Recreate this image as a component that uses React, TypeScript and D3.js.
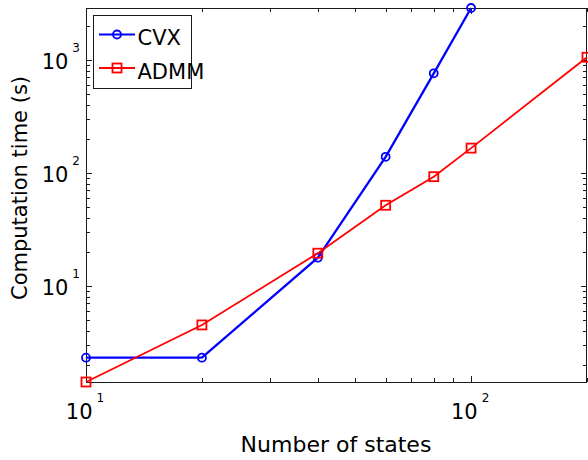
import React, { useEffect, useRef } from 'react';
import * as d3 from 'd3';

// number of states
const states = [10, 20, 40, 60, 80, 100, 200];
// computation time (s)
const cvxTimes = [2.32, 2.32, 17.8, 139, 762, 2884];
const admmTimes = [1.413, 4.52, 19.5, 51.8, 92.7, 166, 1057];

const seriesNames = ['CVX', 'ADMM'];
const xTickExps = [1, 2];
const yTickExps = [1, 2, 3];

const App = () => {
  const svgRef = useRef<SVGSVGElement>(null);

  useEffect(() => {
    const svg = d3.select(svgRef.current);
    svg.selectAll('*').remove();

    const width = 588;
    const height = 460;
    const margin = { top: 8, right: 1, bottom: 78, left: 86 };
    const font = 'DejaVu Sans, sans-serif';

    const cvx = cvxTimes.map((t, i) => ({ x: states[i], y: t }));
    const admm = admmTimes.map((t, i) => ({ x: states[i], y: t }));
    const all = [...cvxTimes, ...admmTimes];

    const x = d3.scaleLog()
      .domain([d3.min(states), d3.max(states)])
      .range([margin.left, width - margin.right]);

    const y = d3.scaleLog()
      .domain([d3.min(all), d3.max(all)])
      .range([height - margin.bottom, margin.top]);

    const [x0, x1] = x.range();
    const [y0, y1] = y.range();

    // minor / major ticks
    const xTicks = x.ticks();
    const yTicks = y.ticks();
    const isMajor = (v: number) => Math.abs(Math.log10(v) - Math.round(Math.log10(v))) < 1e-9;
    const tickColor = '#1a1a1a';

    const ticks = svg.append('g').attr('stroke', tickColor).attr('stroke-width', 1);
    xTicks.forEach(v => {
      const px = Math.round(x(v)) + 0.5;
      const len = isMajor(v) ? 6 : 4;
      ticks.append('line').attr('x1', px).attr('x2', px).attr('y1', y0).attr('y2', y0 - len);
      ticks.append('line').attr('x1', px).attr('x2', px).attr('y1', y1).attr('y2', y1 + len);
    });
    yTicks.forEach(v => {
      const py = Math.round(y(v)) + 0.5;
      const len = isMajor(v) ? 6 : 4;
      ticks.append('line').attr('y1', py).attr('y2', py).attr('x1', x0).attr('x2', x0 + len);
      ticks.append('line').attr('y1', py).attr('y2', py).attr('x1', x1).attr('x2', x1 - len);
    });

    // box
    svg.append('rect')
      .attr('x', x0 + 0.5)
      .attr('y', y1 + 0.5)
      .attr('width', x1 - x0 - 1)
      .attr('height', y0 - y1)
      .attr('fill', 'none')
      .attr('stroke', tickColor)
      .attr('stroke-width', 1);

    // tick labels
    xTickExps.forEach(e => {
      const t = svg.append('text')
        .attr('x', x(Math.pow(10, e)) - 1)
        .attr('y', 419)
        .attr('text-anchor', 'middle')
        .style('font-family', font)
        .style('font-size', '21px')
        .attr('fill', '#000');
      t.append('tspan').text('10');
      t.append('tspan').attr('dx', 4).attr('dy', -17).style('font-size', '12px').text(String(e));
    });
    yTickExps.forEach(e => {
      const t = svg.append('text')
        .attr('x', 80)
        .attr('y', y(Math.pow(10, e)) + 9.5)
        .attr('text-anchor', 'end')
        .style('font-family', font)
        .style('font-size', '21px')
        .attr('fill', '#000');
      t.append('tspan').text('10');
      t.append('tspan').attr('dx', 4).attr('dy', -17).style('font-size', '12px').text(String(e));
    });

    // axis titles
    svg.append('text')
      .attr('x', 336)
      .attr('y', 451.5)
      .attr('text-anchor', 'middle')
      .style('font-family', font)
      .style('font-size', '22px')
      .attr('fill', '#000')
      .text('Number of states');

    svg.append('text')
      .attr('transform', 'translate(27,188) rotate(-90)')
      .attr('text-anchor', 'middle')
      .style('font-family', font)
      .style('font-size', '21px')
      .attr('fill', '#000')
      .text('Computation time (s)');

    const line = d3.line<{ x: number; y: number }>()
      .x(d => x(d.x))
      .y(d => y(d.y));

    // CVX
    svg.append('path')
      .datum(cvx)
      .attr('d', line)
      .attr('fill', 'none')
      .attr('stroke', '#0000ff')
      .attr('stroke-width', 2.3);
    svg.append('g')
      .selectAll('circle')
      .data(cvx)
      .join('circle')
      .attr('cx', d => x(d.x))
      .attr('cy', d => y(d.y))
      .attr('r', 4)
      .attr('fill', 'none')
      .attr('stroke', '#0000ff')
      .attr('stroke-width', 1.8);

    // ADMM
    svg.append('path')
      .datum(admm)
      .attr('d', line)
      .attr('fill', 'none')
      .attr('stroke', '#ff0000')
      .attr('stroke-width', 1.8);
    svg.append('g')
      .selectAll('rect')
      .data(admm)
      .join('rect')
      .attr('x', d => x(d.x) - 4.5)
      .attr('y', d => y(d.y) - 4.5)
      .attr('width', 9)
      .attr('height', 9)
      .attr('fill', 'none')
      .attr('stroke', '#ff0000')
      .attr('stroke-width', 1.8);

    // legend
    const lg = svg.append('g');
    lg.append('rect')
      .attr('x', 93.5)
      .attr('y', 15.5)
      .attr('width', 98)
      .attr('height', 73)
      .attr('fill', '#fff')
      .attr('stroke', tickColor)
      .attr('stroke-width', 1);

    const colors = ['#0000ff', '#ff0000'];
    const rows = [34.5, 68];
    seriesNames.forEach((name, i) => {
      const yy = rows[i];
      lg.append('line')
        .attr('x1', 99).attr('x2', 135)
        .attr('y1', yy).attr('y2', yy)
        .attr('stroke', colors[i])
        .attr('stroke-width', 2);
      if (i === 0) {
        lg.append('circle')
          .attr('cx', 117).attr('cy', yy).attr('r', 4)
          .attr('fill', 'none').attr('stroke', colors[i]).attr('stroke-width', 1.8);
      } else {
        lg.append('rect')
          .attr('x', 112.5).attr('y', yy - 4.5).attr('width', 9).attr('height', 9)
          .attr('fill', 'none').attr('stroke', colors[i]).attr('stroke-width', 1.8);
      }
      lg.append('text')
        .attr('x', 137.5)
        .attr('y', yy + 10.5)
        .style('font-family', font)
        .style('font-size', '21px')
        .attr('fill', '#000')
        .text(name);
    });
  }, []);

  return (
    <svg
      ref={svgRef}
      width={588}
      height={460}
      style={{ position: 'absolute', left: 0, top: 0, background: '#fff' }}
    />
  );
};

export default App;
